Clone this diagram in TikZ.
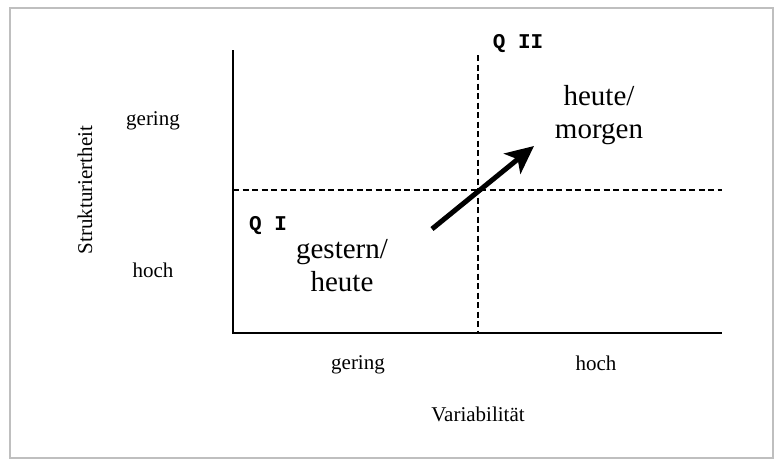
\documentclass[tikz,border=0pt]{standalone}
\usepackage{fontspec}
\setmainfont{Liberation Serif}
\setmonofont{Liberation Mono}
\usetikzlibrary{arrows.meta}

\tikzset{
  lbl/.style={font=\fontsize{21}{24}\selectfont},
  big/.style={font=\fontsize{29}{33}\selectfont, align=center},
  quad/.style={font=\fontsize{21}{24}\selectfont\ttfamily\bfseries},
}

\begin{document}
\begin{tikzpicture}[x=1pt,y=-1pt]
\useasboundingbox (0,0) rectangle (774,459);
\draw[black!25, line width=1.5pt] (10,8) rectangle (773,458);

\coordinate (origin) at (233,333);
\coordinate (ytop) at (233,50);
\coordinate (xend) at (722,333);
\coordinate (vtop) at (478,55);
\coordinate (vbot) at (478,333);
\coordinate (hleft) at (233,190);
\coordinate (hright) at (722,190);
\coordinate (from) at (432,229);
\coordinate (to) at (534,146);

\draw[line width=2.6pt] (ytop) -- (origin) -- (xend);
\draw[line width=2.4pt, dash pattern=on 6pt off 3.5pt] (vtop) -- (vbot);
\draw[line width=2.4pt, dash pattern=on 6pt off 3.5pt] (hleft) -- (hright);
\draw[line width=5pt, -{Stealth[length=28pt,width=26pt,inset=7pt]}] (from) -- (to);

\node (ylow) [lbl] at (153,121) {gering};
\node (yhigh) [lbl] at (153,270) {hoch};
\node (ylabel) [lbl, rotate=90] at (85,190) {Strukturiertheit};
\node (xlow) [lbl] at (358,365) {gering};
\node (xhigh) [lbl] at (596,363) {hoch};
\node (xlabel) [lbl] at (478,414) {Variabilität};

\node (q1) [quad] at (268,226) {Q I};
\node (q2) [quad] at (518,44) {Q II};
\node (past) [big] at (342,266) {gestern/\\heute};
\node (future) [big] at (599,115) {heute/\\morgen};
\end{tikzpicture}
\end{document}
